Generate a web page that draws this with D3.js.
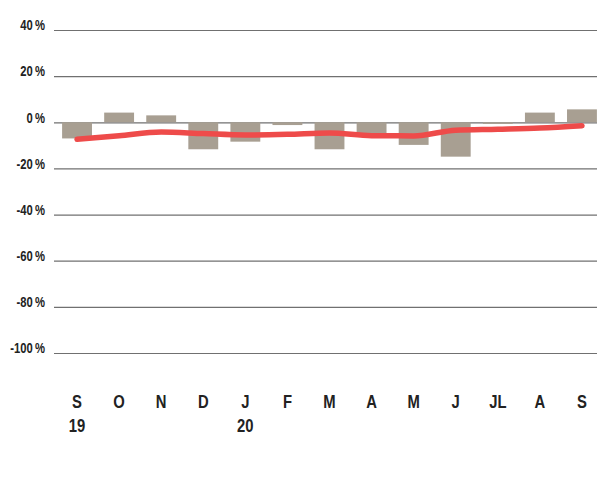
<!DOCTYPE html>
<html>
<head>
<meta charset="utf-8">
<script src="https://cdn.jsdelivr.net/npm/d3@7"></script>
<style>
  html, body { margin: 0; padding: 0; background: #fff; }
  svg { display: block; }
</style>
</head>
<body>
<svg id="chart" width="597" height="494"></svg>
<script>
const months = ["S", "O", "N", "D", "J", "F", "M", "A", "M", "J", "JL", "A", "S"];
const years = ["19", "", "", "", "20", "", "", "", "", "", "", "", ""];
const barValues = [-7, 4.2, 3, -11.7, -8.4, -1.2, -11.7, -6, -9.8, -14.9, -0.7, 4.2, 5.6];
const lineValues = [-7.4, -5.8, -4.2, -4.9, -5.5, -5.2, -4.6, -5.8, -5.9, -3.4, -3.0, -2.5, -1.5];
const yTicks = [40, 20, 0, -20, -40, -60, -80, -100];

const svg = d3.select("#chart");
const W = 597;
const gridLeft = 54;
const keys = months.map((m, i) => i);
const FONT = "'Liberation Sans', Arial, sans-serif";

const x = d3.scaleBand()
  .domain(keys)
  .range([56, 603])
  .paddingInner(0.29)
  .paddingOuter(0.145);

const y = d3.scaleLinear()
  .domain([-100, 40])
  .range([353, 30]);

// Y axis with gridlines
const yAxis = d3.axisLeft(y)
  .tickValues(yTicks)
  .tickSizeInner(-(W - gridLeft))
  .tickSizeOuter(0)
  .tickPadding(0)
  .tickFormat(d => d + "\u2009%");

const gy = svg.append("g")
  .attr("transform", `translate(${gridLeft},0)`)
  .call(yAxis);
gy.select(".domain").remove();
gy.selectAll(".tick line")
  .attr("stroke", "#707070")
  .attr("stroke-width", 1.2);
gy.selectAll(".tick text")
  .attr("x", 0)
  .attr("dy", "-0.02em")
  .attr("transform", "translate(-9,0) scale(0.75,1)")
  .attr("fill", "#222")
  .style("font-family", FONT)
  .style("font-size", "15px")
  .style("font-weight", "bold");

// Bars
svg.append("g")
  .selectAll("rect")
  .data(barValues)
  .join("rect")
  .attr("x", (d, i) => x(i))
  .attr("width", x.bandwidth())
  .attr("y", d => y(Math.max(0, d)))
  .attr("height", d => Math.abs(y(d) - y(0)))
  .attr("fill", "#a89f92");

// Line
const line = d3.line()
  .x((d, i) => x(i) + x.bandwidth() / 2)
  .y(d => y(d))
  .curve(d3.curveMonotoneX);

svg.append("path")
  .datum(lineValues)
  .attr("d", line)
  .attr("fill", "none")
  .attr("stroke", "#ee4b4a")
  .attr("stroke-width", 5.5)
  .attr("stroke-linecap", "round")
  .attr("stroke-linejoin", "round");

// X axis (month labels)
const xAxis = d3.axisBottom(x)
  .tickSize(0)
  .tickPadding(0)
  .tickFormat(i => months[i]);

const gx = svg.append("g")
  .attr("transform", "translate(0,408)")
  .call(xAxis);
gx.select(".domain").remove();
gx.selectAll(".tick text")
  .attr("y", 0)
  .attr("dy", 0)
  .attr("transform", "scale(0.78,1)")
  .attr("fill", "#222")
  .style("font-family", FONT)
  .style("font-size", "19px")
  .style("font-weight", "bold");

gx.selectAll(".tick")
  .append("text")
  .attr("y", 24)
  .attr("text-anchor", "middle")
  .attr("transform", "scale(0.78,1)")
  .attr("fill", "#222")
  .style("font-family", FONT)
  .style("font-size", "19px")
  .style("font-weight", "bold")
  .text(i => years[i]);
</script>
</body>
</html>
